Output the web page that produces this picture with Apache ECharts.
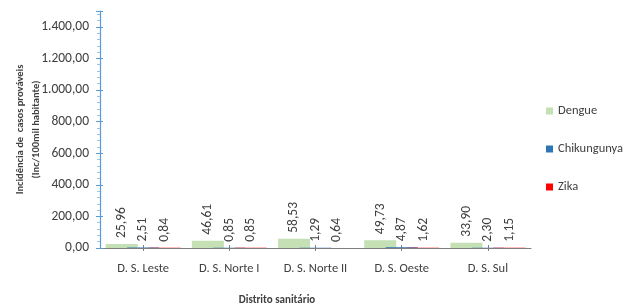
<!DOCTYPE html>
<html>
<head>
<meta charset="utf-8">
<script src="https://cdn.jsdelivr.net/npm/echarts@6/dist/echarts.min.js"></script>
<style>
  html, body { margin: 0; padding: 0; background: #fff; }
  #chart { width: 630px; height: 304px; }
</style>
</head>
<body>
<div id="chart"></div>
<script type="text/javascript">

var distritos = ['D. S. Leste', 'D. S. Norte I', 'D. S. Norte II', 'D. S. Oeste', 'D. S. Sul'];
var dengue = [25.96, 46.61, 58.53, 49.73, 33.90];
var chikungunya = [2.51, 0.85, 1.29, 4.87, 2.30];
var zika = [0.84, 0.85, 0.64, 1.62, 1.15];

var fonte = "Carlito, 'Liberation Sans Narrow', 'Liberation Sans', sans-serif";

// numero no formato brasileiro: 1.400,00
function fmtBR(v) {
	var partes = v.toFixed(2).split('.');
	partes[0] = partes[0].replace(/\B(?=(\d{3})+(?!\d))/g, '.');
	return partes[0] + ',' + partes[1];
}

var rotulo = {
	show: true,
	position: 'top',
	rotate: 90,
	align: 'left',
	verticalAlign: 'middle',
	distance: 6,
	color: '#404040',
	fontSize: 13.5,
	fontFamily: fonte,
	formatter: function (p) { return fmtBR(p.value); }
};

var chart = echarts.init(document.getElementById('chart'));

var option = {
	animation: false,
	textStyle: { fontFamily: fonte },
	title: {
		text: 'Distrito sanitário',
		left: 272,
		textAlign: 'center',
		top: 290,
		textStyle: { fontSize: 11, fontWeight: 'bold', color: '#404040', fontFamily: fonte }
	},
	legend: {
		orient: 'vertical',
		left: 541,
		top: 99.5,
		itemWidth: 7,
		itemHeight: 7,
		itemGap: 25,
		icon: 'rect',
		textStyle: { fontSize: 12.5, color: '#404040', fontFamily: fonte },
		data: ['Dengue', 'Chikungunya', 'Zika']
	},
	grid: { left: 100, right: 99, top: 11, bottom: 56 },
	xAxis: [
		{
			type: 'category',
			data: distritos,
			boundaryGap: true,
			axisLine: { lineStyle: { color: '#7f7f7f', width: 1 } },
			axisTick: { show: true, alignWithLabel: true, length: 3, lineStyle: { color: '#7f7f7f' } },
			axisLabel: { color: '#404040', fontSize: 12.5, margin: 14, fontFamily: fonte }
		},
		{
			// so para os ticks cruzando a linha
			type: 'category',
			data: distritos,
			position: 'bottom',
			boundaryGap: true,
			axisLine: { show: false },
			axisTick: { show: true, inside: true, alignWithLabel: true, length: 3, lineStyle: { color: '#7f7f7f' } },
			axisLabel: { show: false }
		}
	],
	yAxis: [
		{
			type: 'value',
			min: 0,
			max: 1500,
			interval: 200,
			name: 'Incidência de  casos prováveis\n(Inc/100mil habitante)',
			nameLocation: 'middle',
			nameRotate: 90,
			nameGap: 56,
			nameMoveOverlap: false,
			nameTextStyle: { fontSize: 10.5, fontWeight: 'bold', color: '#404040', lineHeight: 16, fontFamily: fonte },
			axisLine: { show: true, lineStyle: { color: '#5b9bd5', width: 1.2 } },
			axisTick: { show: true, length: 4, lineStyle: { color: '#5b9bd5' } },
			minorTick: { show: true, splitNumber: 5, length: 3, lineStyle: { color: '#9dc3e6' } },
			splitLine: { show: false },
			axisLabel: {
				color: '#404040',
				fontSize: 13.5,
				margin: 11,
				fontFamily: fonte,
				showMaxLabel: false,
				formatter: function (v) { return v > 1400 ? '' : fmtBR(v); }
			}
		},
		{
			type: 'value',
			position: 'left',
			min: 0,
			max: 1500,
			interval: 200,
			axisLine: { show: false },
			axisTick: { show: true, inside: true, length: 3, lineStyle: { color: '#5b9bd5' } },
			splitLine: { show: false },
			axisLabel: { show: false }
		}
	],
	series: [
		{
			name: 'Dengue',
			type: 'bar',
			data: dengue,
			barWidth: 32,
			barGap: '-33%',
			itemStyle: { color: '#c5e0b4' },
			label: rotulo
		},
		{
			name: 'Chikungunya',
			type: 'bar',
			data: chikungunya,
			barWidth: 32,
			barGap: '-33%',
			itemStyle: { color: '#2e75b6' },
			label: rotulo
		},
		{
			name: 'Zika',
			type: 'bar',
			data: zika,
			barWidth: 32,
			barGap: '-33%',
			itemStyle: { color: '#ff0000' },
			label: rotulo
		}
	]
};

chart.setOption(option);
</script>
</body>
</html>
